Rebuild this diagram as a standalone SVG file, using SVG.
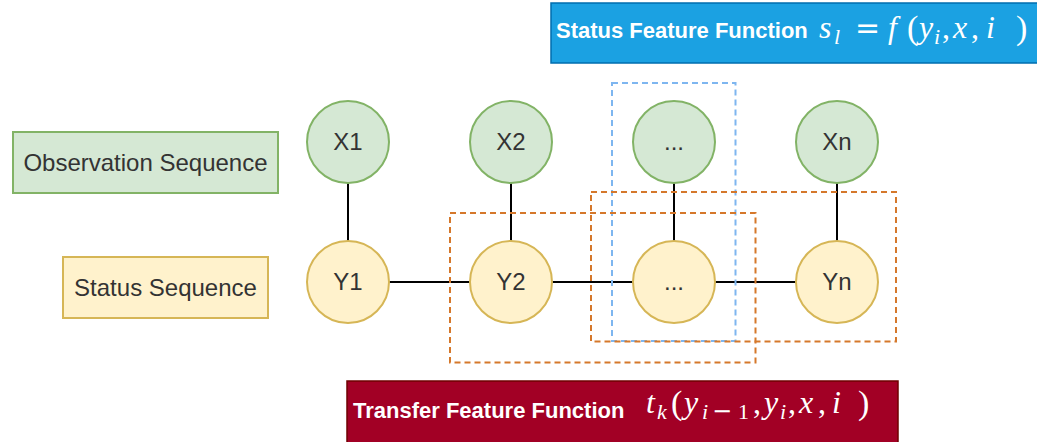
<svg xmlns="http://www.w3.org/2000/svg" width="1037" height="442" viewBox="0 0 1037 442">
<style>
.g{fill:#d5e8d4;stroke:#82b366;stroke-width:2}
.y{fill:#fff2cc;stroke:#d6b656;stroke-width:2}
.lbl{font-family:"Liberation Sans",Arial,sans-serif;font-size:24px;fill:#333;text-anchor:middle}
.ttl{font-family:"Liberation Sans",Arial,sans-serif;font-size:22px;font-weight:bold;fill:#fff}
.m{font-family:"Liberation Serif","Times New Roman",serif;font-size:32px;font-style:italic;fill:#fff}
.mn{font-style:normal}
.sub{font-size:22px}
.edge{stroke:#000;stroke-width:2;fill:none}
.od{fill:none;stroke:#d5782b;stroke-width:2;stroke-dasharray:6 4}
.bd{fill:none;stroke:#7eb6f0;stroke-width:2;stroke-dasharray:6 4}
</style>
<rect width="1037" height="442" fill="#fff"/>

<g id="connectors">
<line class="edge" x1="348" y1="183" x2="348" y2="241"/>
<line class="edge" x1="511" y1="183" x2="511" y2="241"/>
<line class="edge" x1="674" y1="183" x2="674" y2="241"/>
<line class="edge" x1="837" y1="183" x2="837" y2="241"/>
<line class="edge" x1="389" y1="282" x2="470" y2="282"/>
<line class="edge" x1="552" y1="282" x2="633" y2="282"/>
<line class="edge" x1="715" y1="282" x2="796" y2="282"/>
</g>

<g id="obs-label"><rect class="g" x="13" y="132" width="265" height="61"/><text class="lbl" x="145.5" y="171">Observation Sequence</text></g>
<g id="status-label"><rect class="y" x="63" y="257" width="205" height="61"/><text class="lbl" x="165.5" y="296">Status Sequence</text></g>

<g id="X1"><circle class="g" cx="348" cy="142" r="41"/><text class="lbl" x="348" y="150">X1</text></g>
<g id="X2"><circle class="g" cx="511" cy="142" r="41"/><text class="lbl" x="511" y="150">X2</text></g>
<g id="X3"><circle class="g" cx="674" cy="142" r="41"/><text class="lbl" x="674" y="150">...</text></g>
<g id="Xn"><circle class="g" cx="837" cy="142" r="41"/><text class="lbl" x="837" y="150">Xn</text></g>
<g id="Y1"><circle class="y" cx="348" cy="282" r="41"/><text class="lbl" x="348" y="290">Y1</text></g>
<g id="Y2"><circle class="y" cx="511" cy="282" r="41"/><text class="lbl" x="511" y="290">Y2</text></g>
<g id="Y3"><circle class="y" cx="674" cy="282" r="41"/><text class="lbl" x="674" y="290">...</text></g>
<g id="Yn"><circle class="y" cx="837" cy="282" r="41"/><text class="lbl" x="837" y="290">Yn</text></g>

<g id="status-window"><rect class="bd" x="612" y="83" width="123.5" height="258"/></g>
<g id="transfer-window-1"><rect class="od" x="450" y="213" width="305.5" height="149.5"/></g>
<g id="transfer-window-2"><rect class="od" x="591" y="192" width="305" height="149.5"/></g>

<g id="status-feature">
<rect x="551" y="3" width="500" height="60" fill="#1ba1e2" stroke="#006eaf" stroke-width="1.5"/>
<text class="ttl" x="556" y="38">Status Feature Function</text>
<text class="m"><tspan x="819" y="38">s</tspan><tspan class="sub" x="834" y="44">l</tspan><tspan class="mn" x="855" y="38" font-family="DejaVu Sans" font-size="30">=</tspan><tspan x="888" y="38">f</tspan><tspan class="mn" x="907" y="39" font-size="34">(</tspan><tspan x="919" y="38">y</tspan><tspan class="sub" x="934" y="44">i</tspan><tspan class="mn" x="942" y="38">,</tspan><tspan x="953" y="38">x</tspan><tspan class="mn" x="971" y="38">,</tspan><tspan x="986" y="38">i</tspan><tspan class="mn" x="1016" y="39" font-size="34">)</tspan></text>
</g>

<g id="transfer-feature">
<rect x="347" y="381" width="551" height="70" fill="#a20025" stroke="#6f0000" stroke-width="1.5"/>
<text class="ttl" x="353" y="418">Transfer Feature Function</text>
<text class="m"><tspan x="646" y="413">t</tspan><tspan class="sub" x="657" y="419">k</tspan><tspan class="mn" x="671" y="414" font-size="34">(</tspan><tspan x="684" y="413">y</tspan><tspan class="sub" x="702" y="419">i</tspan><tspan class="mn" x="712" y="419" font-family="DejaVu Sans" font-size="24">−</tspan><tspan class="mn sub" x="738" y="419">1</tspan><tspan class="mn" x="753" y="413">,</tspan><tspan x="764" y="413">y</tspan><tspan class="sub" x="780" y="419">i</tspan><tspan class="mn" x="788" y="413">,</tspan><tspan x="799" y="413">x</tspan><tspan class="mn" x="818" y="413">,</tspan><tspan x="832" y="413">i</tspan><tspan class="mn" x="858" y="414" font-size="34">)</tspan></text>
</g>
</svg>
